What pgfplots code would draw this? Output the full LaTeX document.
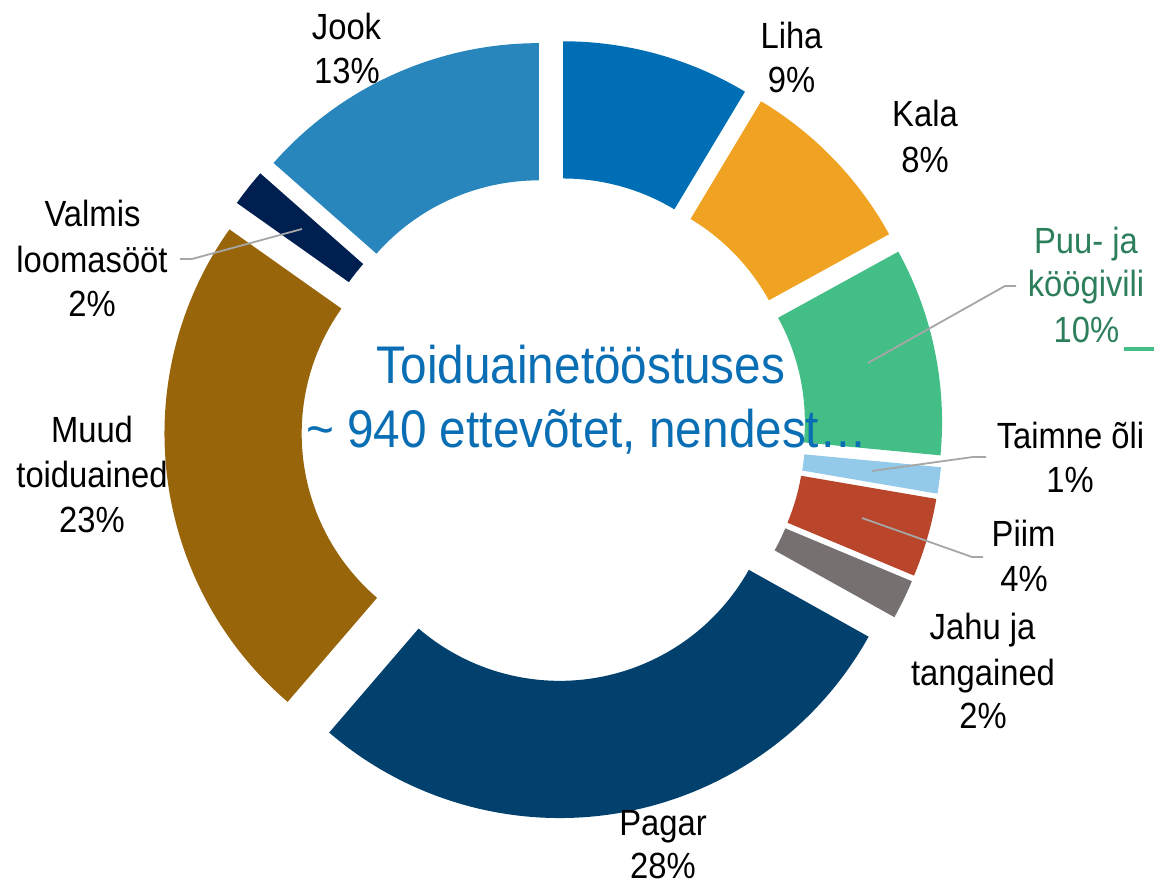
\documentclass[border=0pt]{standalone}
\usepackage{fontspec}
\setmainfont{Liberation Sans}[FakeStretch=0.9]
\usepackage{pgfplots}
\usepackage{pgfplotstable}
\pgfplotsset{compat=1.18}

\definecolor{cLiha}{HTML}{006EB5}
\definecolor{cKala}{HTML}{F0A323}
\definecolor{cPuu}{HTML}{43BE87}
\definecolor{cTaimne}{HTML}{93CAEA}
\definecolor{cPiim}{HTML}{B9452A}
\definecolor{cJahu}{HTML}{767170}
\definecolor{cPagar}{HTML}{02416D}
\definecolor{cMuud}{HTML}{98650B}
\definecolor{cValmis}{HTML}{001F51}
\definecolor{cJook}{HTML}{2886BC}
\definecolor{cTitle}{HTML}{0A6EB4}
\definecolor{cPuuText}{HTML}{2C7F5A}
\definecolor{cLeader}{HTML}{A6A6A6}

% share of each slice (%), clockwise from 12 o'clock
\pgfplotstableread{
name value col
Liha 8.6 cLiha
Kala 8.4 cKala
Puu 9.5 cPuu
Taimne 1.2 cTaimne
Piim 3.6 cPiim
Jahu 1.8 cJahu
Pagar 28.2 cPagar
Muud 23.5 cMuud
Valmis 1.7 cValmis
Jook 13.5 cJook
}\donutdata

\begin{document}
\begin{tikzpicture}[
  lbl/.style={anchor=base, inner sep=0pt, font=\fontsize{18.2}{22}\selectfont, text=black},
  ttl/.style={anchor=base, inner sep=0pt, font=\fontsize{26.5}{32}\selectfont, text=cTitle},
  leader/.style={draw=cLeader, line width=0.9pt}]
\useasboundingbox (0,0) rectangle (577pt,441.5pt);
\begin{axis}[at={(0,0)}, anchor=south west,
  width=577pt, height=441.5pt, scale only axis,
  xmin=0, xmax=1154, ymin=0, ymax=883,
  hide axis, clip=false]

\pgfplotsextra{
  \pgfplotstablegetrowsof{\donutdata}
  \pgfmathtruncatemacro{\lastrow}{\pgfplotsretval-1}
  \gdef\cumval{0}
  \foreach \i in {0,...,\lastrow}{
    \pgfplotstablegetelem{\i}{value}\of\donutdata \let\sliceval\pgfplotsretval
    \pgfplotstablegetelem{\i}{col}\of\donutdata \let\slicecol\pgfplotsretval
    \pgfmathsetmacro{\angA}{90-3.6*\cumval}
    \pgfmathsetmacro{\angB}{90-3.6*(\cumval+\sliceval)}
    \pgfmathsetmacro{\angM}{(\angA+\angB)/2}
    \path[fill=\slicecol, shift={(axis cs:553.5,453.7)}, shift={(\angM:17.8pt)}]
      (\angA:176.85pt) arc[start angle=\angA, end angle=\angB, radius=176.85pt]
      -- (\angB:108.25pt) arc[start angle=\angB, end angle=\angA, radius=108.25pt]
      -- cycle;
    \pgfmathsetmacro{\newcum}{\cumval+\sliceval}
    \xdef\cumval{\newcum}
  }
}

% leader lines
\draw[leader] (axis cs:302,654) -- (axis cs:192,624) -- (axis cs:180,624);
\draw[leader] (axis cs:868,520) -- (axis cs:1005,597) -- (axis cs:1016,597);
\draw[leader] (axis cs:872,412) -- (axis cs:973,426) -- (axis cs:986,426);
\draw[leader] (axis cs:862,365) -- (axis cs:972,326) -- (axis cs:983,326);
\draw[cPuu, line width=1.6pt] (axis cs:1124,534) -- (axis cs:1160,534);

% centre text
\node[ttl] at (axis cs:581,499) {Toiduainetööstuses};
\node[ttl] at (axis cs:586.5,435) {\textasciitilde{} 940 ettevõtet, nendest…};

% labels
\node[lbl] at (axis cs:346.5,843) {Jook};
\node[lbl] at (axis cs:347,799) {13\%};
\node[lbl] at (axis cs:791.5,834) {Liha};
\node[lbl] at (axis cs:791.5,790) {9\%};
\node[lbl] at (axis cs:925,756) {Kala};
\node[lbl] at (axis cs:925,710) {8\%};
\node[lbl, text=cPuuText] at (axis cs:1086,629) {Puu- ja};
\node[lbl, text=cPuuText] at (axis cs:1086,586) {köögivili};
\node[lbl, text=cPuuText] at (axis cs:1086.5,540) {10\%};
\node[lbl] at (axis cs:1070.5,434) {Taimne õli};
\node[lbl] at (axis cs:1070,390) {1\%};
\node[lbl] at (axis cs:1023.5,336) {Piim};
\node[lbl] at (axis cs:1024,291) {4\%};
\node[lbl] at (axis cs:982.5,243) {Jahu ja};
\node[lbl] at (axis cs:983,198) {tangained};
\node[lbl] at (axis cs:983,155) {2\%};
\node[lbl] at (axis cs:663,48) {Pagar};
\node[lbl] at (axis cs:663,5) {28\%};
\node[lbl] at (axis cs:92,440) {Muud};
\node[lbl] at (axis cs:92,395) {toiduained};
\node[lbl] at (axis cs:92,350) {23\%};
\node[lbl] at (axis cs:92.5,656) {Valmis};
\node[lbl] at (axis cs:92,610) {loomasööt};
\node[lbl] at (axis cs:92,566) {2\%};
\end{axis}
\end{tikzpicture}
\end{document}
